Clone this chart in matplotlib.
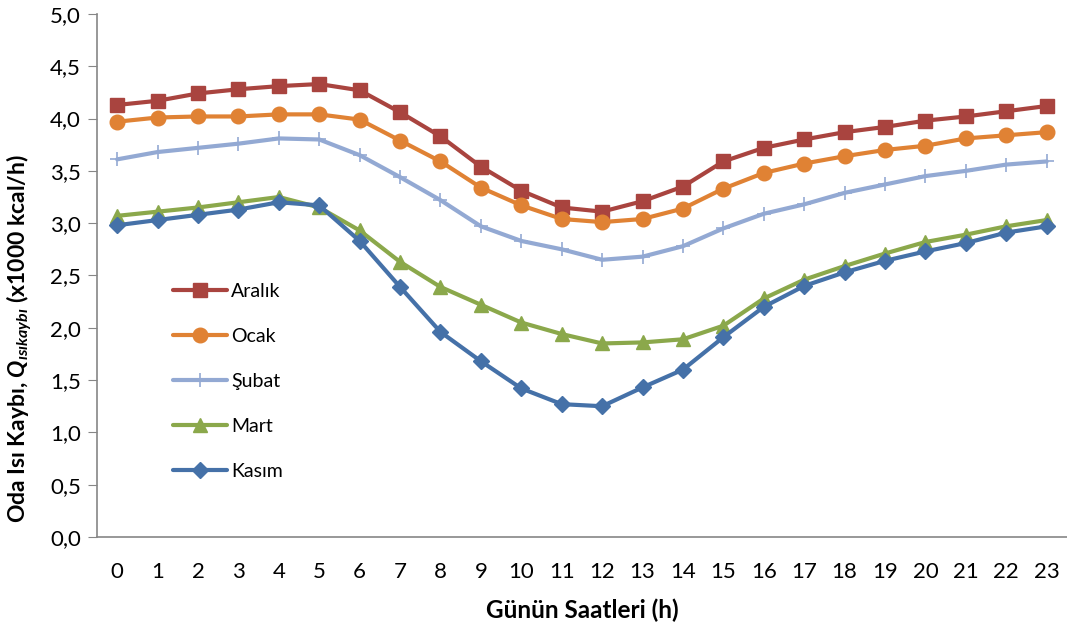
import matplotlib
matplotlib.use("Agg")
import matplotlib.pyplot as plt
from matplotlib.ticker import FuncFormatter

hours = list(range(24))

aralik = [4.13, 4.17, 4.24, 4.28, 4.31, 4.33, 4.27, 4.06, 3.83, 3.54, 3.31, 3.15, 3.11,
          3.21, 3.35, 3.59, 3.72, 3.80, 3.87, 3.92, 3.98, 4.02, 4.07, 4.12]
ocak = [3.97, 4.01, 4.02, 4.02, 4.04, 4.04, 3.99, 3.79, 3.59, 3.34, 3.17, 3.04, 3.01,
        3.04, 3.14, 3.33, 3.48, 3.57, 3.64, 3.70, 3.74, 3.81, 3.84, 3.87]
subat = [3.61, 3.68, 3.72, 3.76, 3.81, 3.80, 3.65, 3.44, 3.22, 2.97, 2.83, 2.75, 2.65,
         2.68, 2.78, 2.95, 3.09, 3.18, 3.29, 3.37, 3.45, 3.50, 3.56, 3.59]
mart = [3.07, 3.11, 3.15, 3.20, 3.25, 3.15, 2.93, 2.63, 2.39, 2.22, 2.05, 1.94, 1.85,
        1.86, 1.89, 2.02, 2.28, 2.46, 2.59, 2.71, 2.82, 2.89, 2.97, 3.03]
kasim = [2.98, 3.03, 3.08, 3.13, 3.20, 3.17, 2.83, 2.39, 1.96, 1.68, 1.42, 1.27, 1.25,
         1.43, 1.60, 1.91, 2.20, 2.40, 2.53, 2.64, 2.73, 2.81, 2.91, 2.97]

series = [
    ("Aralık", aralik, "#A9443F", "s", 10),
    ("Ocak", ocak, "#E08234", "o", 10.5),
    ("Şubat", subat, "#93A9D3", "+", 10),
    ("Mart", mart, "#8BA84B", "^", 10),
    ("Kasım", kasim, "#4571A8", "D", 8.5),
]

plt.rcParams["font.family"] = ["Lato", "DejaVu Sans"]
plt.rcParams["mathtext.fontset"] = "custom"
plt.rcParams["mathtext.it"] = "Lato:italic:bold"
plt.rcParams["mathtext.rm"] = "Lato:bold"
plt.rcParams["mathtext.bf"] = "Lato:bold"

fig = plt.figure(figsize=(10.67, 6.34), dpi=100)
ax = fig.add_axes([0.0909, 0.153, 0.909, 0.825])

for name, vals, col, mk, ms in series:
    ax.plot(hours, vals, color=col, lw=3, marker=mk, markersize=ms,
            markeredgewidth=1.2 if mk == "+" else 1, markeredgecolor=col,
            markerfacecolor=col, label=name, solid_capstyle="round")

ax.set_xlim(-0.5, 23.5)
ax.set_ylim(0, 5)
ax.set_xticks(hours)
ax.set_yticks([i * 0.5 for i in range(11)])
ax.yaxis.set_major_formatter(FuncFormatter(lambda v, p: ("%.1f" % v).replace(".", ",")))

for s in ("top", "right"):
    ax.spines[s].set_visible(False)
for s in ("left", "bottom"):
    ax.spines[s].set_color("#868686")
    ax.spines[s].set_linewidth(1.2)
ax.tick_params(axis="y", length=6.5, color="#868686", labelsize=16, pad=5)
ax.tick_params(axis="x", length=0, labelsize=16, pad=18)

ax.set_xlabel("Günün Saatleri (h)", fontsize=17.5, fontweight="bold", labelpad=12)
ax.set_ylabel(r"Oda Isı Kaybı, $Q_{ısıkaybı}$ (x1000 kcal/h)", fontsize=16.5,
              fontweight="bold")
ax.yaxis.set_label_coords(-0.065, 0.38)

ax.legend(loc="upper left", bbox_to_anchor=(0.06, 0.52), frameon=False,
          fontsize=14, handlelength=2.8, labelspacing=1.45, handletextpad=0.2)

fig.savefig("out.png", dpi=100)
